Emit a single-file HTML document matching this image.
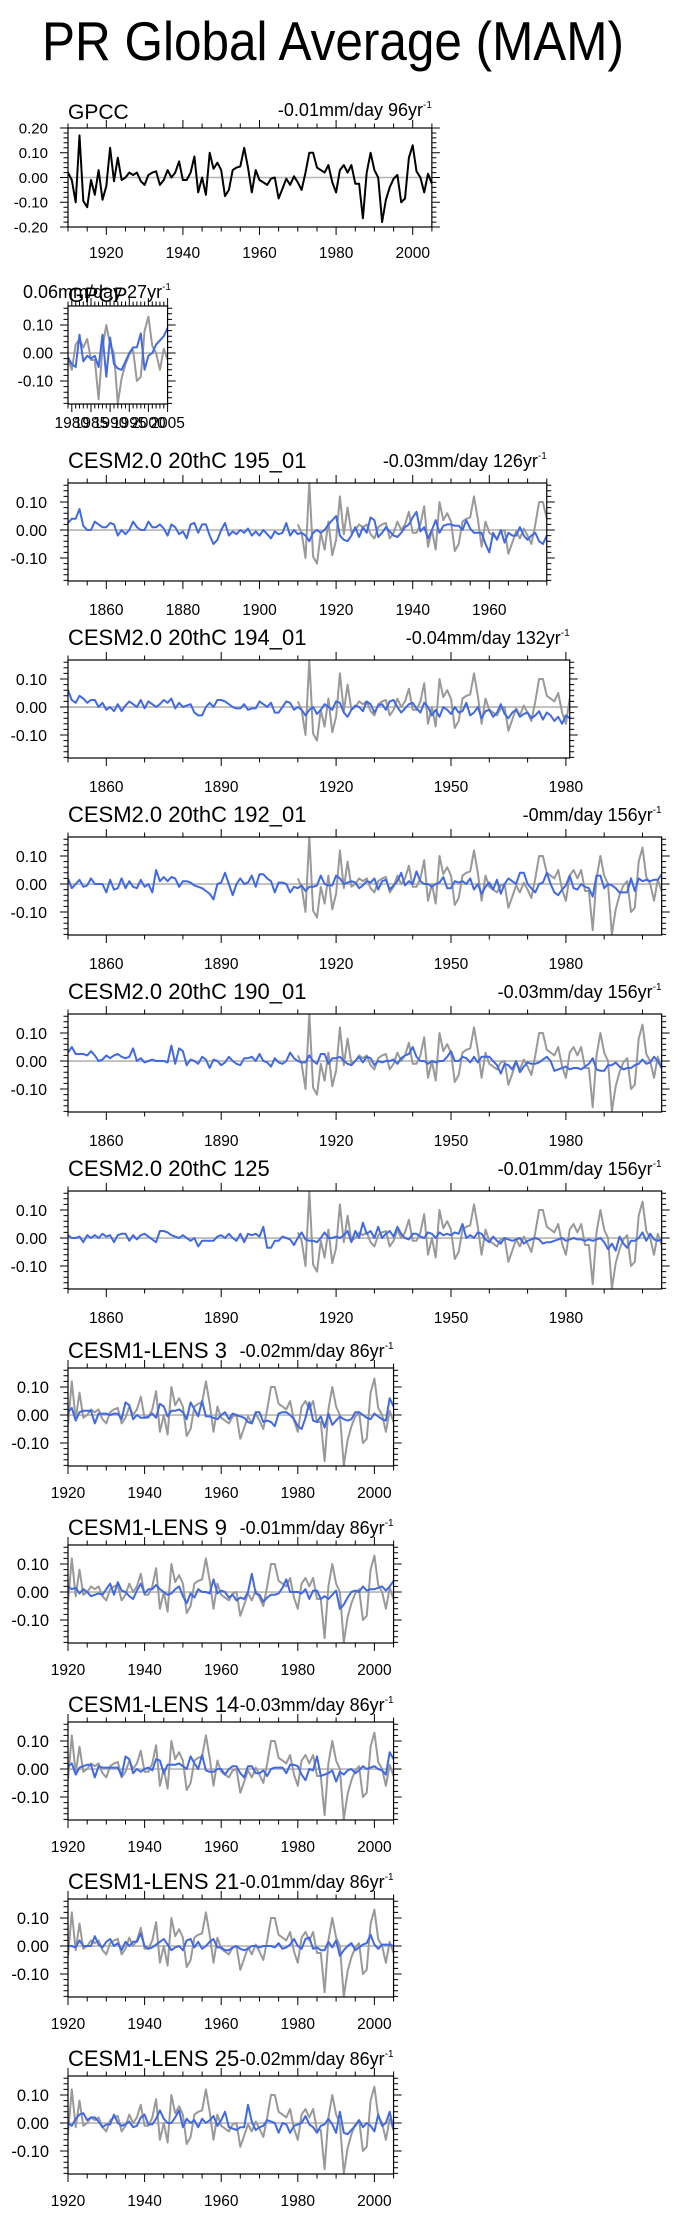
<!DOCTYPE html>
<html><head><meta charset="utf-8">
<style>
html,body{margin:0;padding:0;background:#fff;}
svg{display:block;font-family:"Liberation Sans",sans-serif;}
</style></head>
<body>
<svg id="fig" width="683" height="2214" viewBox="0 0 683 2214" xmlns="http://www.w3.org/2000/svg">
<rect x="0" y="0" width="683" height="2214" fill="#fff"/>
<text x="42" y="60" font-size="55" textLength="582" lengthAdjust="spacingAndGlyphs">PR Global Average (MAM)</text>
</svg>
<script>
const gpccYears = [1910, 2005];
const gpcc = [0.02,-0.01,-0.10,0.17,-0.095,-0.12,-0.01,-0.07,0.03,-0.09,
-0.035,0.12,-0.015,0.08,-0.01,0.00,0.02,0.01,0.02,-0.015,
-0.03,0.01,0.02,0.025,-0.03,-0.01,0.03,0.00,0.02,0.065,
-0.01,-0.01,0.02,0.085,-0.06,0.00,-0.07,0.10,0.035,0.06,
0.03,-0.075,-0.05,0.03,0.04,0.045,0.12,0.04,-0.06,0.03,
-0.01,-0.02,-0.03,-0.005,0.00,-0.085,-0.045,-0.005,-0.03,0.005,
-0.02,-0.05,0.02,0.10,0.10,0.04,0.03,0.02,0.05,-0.02,
-0.06,0.03,0.05,0.02,0.05,-0.025,-0.025,-0.165,0.02,0.10,
0.03,0.00,-0.18,-0.09,-0.04,-0.005,0.01,-0.10,-0.085,0.08,
0.13,0.025,0.00,-0.06,0.015,-0.025];
const gpcpYears = [1979, 2005];
const gpcp = [-0.015,-0.04,-0.05,0.065,-0.03,-0.01,-0.02,-0.01,-0.05,0.065,-0.085,0.055,-0.04,-0.055,-0.06,-0.03,0.00,0.02,0.02,0.07,-0.06,-0.01,0.00,0.03,0.045,0.06,0.09];
const cesm195 = [0.025,0.04,0.04,0.075,0.015,0.00,0.00,0.03,0.02,0.01,0.01,
0.025,0.02,-0.02,0.00,-0.015,0.00,0.03,0.01,0.00,0.00,0.03,
0.01,0.01,0.02,0.005,-0.02,0.02,0.01,-0.015,-0.005,-0.03,
0.02,0.025,-0.01,0.02,0.02,-0.02,-0.05,-0.035,0.00,0.025,
-0.02,-0.005,-0.015,0.00,-0.01,0.005,-0.02,-0.005,-0.02,0.00,
-0.015,-0.03,-0.005,-0.015,-0.01,0.025,-0.02,0.00,-0.015,-0.01,
-0.02,-0.04,-0.01,0.00,-0.01,0.00,0.02,0.035,0.05,-0.02,
-0.035,-0.04,-0.02,0.01,-0.025,0.01,-0.01,0.045,0.035,-0.025,
-0.01,0.01,-0.005,-0.02,-0.025,-0.01,0.01,0.02,0.045,0.065,
-0.005,0.01,-0.03,0.00,0.035,-0.01,0.015,0.02,0.02,0.015,
0.015,0.00,0.035,0.005,-0.01,-0.01,-0.01,-0.05,-0.08,-0.01,
-0.035,0.00,-0.045,-0.01,-0.02,-0.02,0.01,-0.02,-0.035,-0.02,
-0.01,-0.04,-0.05,-0.02];
const cesm194 = [0.06,0.025,0.015,0.04,0.03,0.015,0.025,0.025,0.00,0.015,-0.01,
0.00,-0.015,0.01,-0.015,0.005,0.02,0.01,0.00,0.025,-0.005,
0.02,0.01,0.00,0.01,0.025,0.015,0.03,-0.005,0.015,0.00,
0.005,0.01,-0.02,-0.03,-0.03,0.00,0.015,0.00,0.025,0.025,
0.02,0.01,0.00,-0.005,-0.005,0.01,-0.01,-0.005,-0.005,0.02,
0.01,0.00,0.015,-0.02,-0.02,0.00,0.02,0.015,-0.01,0.00,
-0.01,-0.03,-0.01,0.00,-0.025,-0.01,0.01,0.00,-0.01,0.02,
0.015,-0.02,-0.035,-0.01,0.005,0.00,-0.015,0.02,0.01,-0.02,
0.005,0.01,-0.01,0.02,0.025,0.00,-0.02,-0.005,0.01,0.015,
-0.005,-0.02,0.015,0.00,-0.03,-0.01,-0.035,0.00,-0.01,-0.025,
0.00,-0.02,-0.015,0.015,-0.03,-0.02,0.00,-0.04,-0.015,-0.01,
-0.035,-0.02,0.01,-0.025,-0.04,-0.02,-0.01,-0.035,-0.025,-0.02,
-0.04,-0.03,-0.015,-0.045,-0.02,-0.03,-0.05,-0.035,-0.06,-0.03,
-0.04];
const cesm192 = [0.02,-0.015,0.00,0.015,-0.01,-0.005,0.02,0.00,0.00,0.00,-0.03,
0.015,-0.02,-0.015,0.02,-0.015,0.01,-0.01,-0.015,0.015,-0.01,
0.00,-0.03,0.05,0.01,0.025,0.01,0.025,0.02,-0.01,0.01,
0.01,0.005,-0.005,-0.01,-0.015,-0.025,-0.035,-0.055,0.00,0.005,
0.04,0.00,-0.04,0.00,0.02,0.00,0.005,0.03,-0.01,0.035,
0.035,0.02,0.01,-0.03,0.005,0.005,0.00,-0.03,-0.01,-0.015,
-0.005,-0.025,-0.01,-0.01,-0.005,0.03,0.00,-0.005,-0.005,0.03,
0.02,0.00,0.005,0.01,0.005,-0.015,-0.005,0.01,0.005,0.02,
-0.02,0.01,0.015,-0.02,-0.005,0.01,0.04,-0.005,0.01,0.00,
0.045,0.01,0.00,0.00,-0.01,0.00,0.005,0.025,-0.015,-0.015,
0.01,0.005,0.01,0.00,0.02,-0.02,0.00,-0.035,-0.01,0.005,
-0.02,0.015,-0.035,0.00,0.02,0.01,0.00,0.04,0.04,0.00,
-0.015,-0.03,0.00,0.005,0.04,0.00,-0.03,-0.04,-0.02,-0.005,
0.03,-0.015,-0.02,0.00,-0.01,-0.015,-0.045,0.03,0.03,-0.015,
0.00,-0.005,-0.015,-0.03,-0.03,-0.03,0.02,-0.025,0.02,0.01,
0.015,0.01,0.015,0.015,0.035];
const cesm190 = [0.03,0.05,0.025,0.025,0.025,0.02,0.035,0.02,0.00,0.005,0.02,
0.01,0.02,0.025,0.015,0.01,0.015,0.045,0.00,0.01,-0.005,
0.00,0.005,0.00,0.00,0.00,-0.005,0.055,-0.01,0.045,0.035,
-0.015,0.005,0.00,-0.01,0.015,0.005,-0.025,0.005,0.00,-0.015,
-0.005,0.015,0.00,-0.01,-0.015,0.01,0.01,0.015,0.00,0.025,
0.00,-0.005,-0.02,0.01,-0.005,-0.01,0.00,0.03,0.01,0.00,
-0.005,-0.005,0.02,0.00,-0.01,0.025,0.025,-0.01,0.01,0.01,
0.015,0.00,-0.01,-0.015,0.00,0.015,-0.005,0.015,0.01,-0.015,
0.00,-0.005,0.00,0.00,0.005,-0.01,0.01,0.02,0.025,0.05,
0.015,0.00,0.00,-0.01,0.00,-0.005,0.00,0.00,0.015,0.035,
0.00,0.00,0.015,0.01,-0.005,0.015,-0.005,0.015,0.015,0.015,
0.00,-0.015,-0.045,-0.01,-0.015,-0.03,0.00,-0.04,-0.02,-0.005,
-0.01,-0.01,-0.005,0.005,0.015,0.00,-0.035,-0.03,-0.025,-0.02,
-0.03,-0.025,-0.025,-0.03,-0.02,-0.01,0.01,-0.03,-0.035,-0.035,
-0.015,-0.015,-0.005,-0.02,-0.03,-0.025,-0.025,-0.015,-0.01,0.005,
-0.01,-0.005,0.015,0.00,-0.025];
const cesm125 = [0.01,0.00,0.00,0.005,-0.015,0.01,0.00,0.01,0.00,0.015,0.005,
0.01,-0.015,0.01,0.015,0.015,-0.01,0.01,-0.005,0.01,0.015,
0.005,-0.005,-0.015,0.025,0.025,0.02,0.01,0.005,0.00,0.01,
0.00,-0.01,0.00,-0.03,-0.01,-0.01,-0.01,-0.01,0.005,0.01,
0.00,0.015,0.00,-0.01,0.015,-0.015,0.015,0.01,0.015,0.005,
0.04,-0.035,-0.035,-0.01,-0.01,0.005,0.00,-0.005,-0.025,0.00,
0.02,-0.005,-0.01,-0.01,-0.015,0.00,0.02,0.00,0.00,0.005,
0.00,0.01,0.025,-0.015,0.025,0.00,0.055,0.015,0.025,0.00,
0.04,0.00,0.015,0.025,0.005,0.04,0.015,0.00,-0.005,0.015,
0.015,0.005,0.00,0.02,0.015,0.00,0.02,0.01,0.015,0.01,
0.02,0.015,0.05,0.00,0.01,0.00,0.02,0.015,-0.005,-0.015,
0.005,-0.01,-0.02,0.00,-0.005,-0.01,-0.005,0.00,-0.02,-0.01,
-0.005,0.00,-0.005,-0.02,-0.015,-0.015,-0.01,-0.005,0.00,-0.01,
-0.005,0.00,-0.005,-0.005,-0.01,-0.005,-0.01,-0.005,0.00,-0.015,
-0.04,-0.02,-0.045,0.005,-0.02,-0.035,-0.01,-0.01,0.00,0.02,
-0.01,0.015,-0.005,-0.01,-0.005];
const lens3 = [0.01,0.025,-0.02,0.01,0.015,0.015,0.015,-0.03,0.005,0.005,
0.005,0.00,0.005,0.005,-0.015,0.045,0.035,-0.015,0.00,-0.01,
-0.01,-0.005,0.005,-0.01,0.04,0.03,-0.005,0.015,0.015,0.02,
0.01,-0.015,0.045,0.02,-0.005,0.05,-0.005,-0.005,-0.01,-0.015,
0.00,0.01,-0.015,0.005,0.00,-0.005,-0.01,-0.025,-0.03,0.01,
0.01,-0.025,-0.02,-0.025,-0.04,0.005,0.01,0.01,0.00,-0.015,
-0.04,-0.05,-0.01,0.045,-0.02,-0.025,-0.005,-0.045,0.005,-0.035,
-0.02,-0.005,-0.015,-0.02,-0.015,0.01,0.01,0.00,-0.01,-0.015,
0.005,-0.005,-0.015,-0.02,0.06,0.03];
const lens9 = [0.02,0.01,0.015,-0.005,0.01,0.00,-0.015,-0.01,-0.005,-0.01,
0.01,0.03,-0.01,0.035,0.005,0.00,-0.015,-0.025,0.005,0.03,
-0.005,0.01,0.01,0.025,0.01,0.00,-0.01,-0.005,0.01,0.02,
-0.015,-0.04,-0.005,-0.02,0.01,0.00,0.00,-0.005,0.045,-0.005,
0.005,0.00,-0.02,-0.01,-0.03,-0.02,-0.025,0.00,0.065,-0.005,
-0.01,-0.035,-0.02,-0.01,-0.01,-0.005,0.015,0.045,0.00,0.00,
0.00,-0.005,0.01,-0.025,0.005,0.005,-0.025,-0.015,-0.025,-0.01,
0.005,-0.06,-0.045,-0.02,0.00,0.005,0.00,0.02,0.005,0.01,
0.01,0.015,0.02,0.005,0.02,0.04];
const lens14 = [0.01,0.02,-0.02,0.005,0.01,0.015,0.015,-0.03,0.01,0.005,
0.005,0.005,0.005,0.005,-0.025,0.045,0.035,-0.015,0.00,-0.01,
0.00,0.005,-0.005,0.035,0.03,-0.015,0.015,0.015,0.015,0.02,
0.01,0.00,0.045,0.02,0.00,0.05,-0.005,-0.01,-0.01,0.00,
0.00,-0.02,0.00,0.01,0.01,-0.015,-0.03,0.01,0.01,-0.015,
-0.015,-0.005,-0.025,0.00,0.005,0.005,0.005,-0.015,0.015,0.015,
0.01,-0.02,-0.04,0.00,-0.005,0.045,-0.025,-0.02,-0.015,-0.005,
-0.045,-0.01,-0.02,-0.005,0.00,-0.015,-0.005,0.01,0.00,0.005,
0.01,0.00,-0.005,-0.02,0.06,0.035];
const lens21 = [0.00,0.00,-0.005,0.02,0.00,0.00,0.00,0.035,0.005,-0.005,
0.015,0.025,0.00,0.01,-0.015,0.015,0.00,0.015,0.015,0.045,
0.00,-0.01,-0.005,0.005,0.015,0.025,0.005,-0.015,-0.005,0.00,
-0.015,0.02,0.025,-0.005,0.015,-0.01,0.00,0.015,0.025,-0.005,
-0.005,-0.015,-0.015,-0.005,0.00,-0.01,-0.015,-0.01,0.00,0.00,
-0.005,0.00,0.00,0.00,-0.005,0.01,-0.01,-0.005,0.005,0.025,
0.00,-0.01,0.025,0.03,-0.01,-0.005,-0.015,-0.015,0.015,-0.005,
0.02,-0.035,-0.015,0.00,0.01,-0.015,-0.005,0.005,0.01,0.04,
0.005,-0.01,0.005,0.005,0.005,0.00];
const lens25 = [0.00,-0.01,0.015,0.03,0.035,0.01,0.02,0.02,0.005,-0.015,
-0.005,-0.005,0.03,0.00,-0.01,-0.005,0.005,-0.015,-0.01,0.02,
0.03,-0.005,-0.005,0.015,0.045,0.015,0.00,0.00,0.02,0.045,
-0.015,0.015,0.00,0.01,-0.015,0.015,0.00,0.01,0.025,-0.01,
0.01,0.04,-0.015,-0.02,-0.025,-0.015,-0.015,0.065,0.005,-0.025,
-0.015,-0.01,0.01,0.005,0.00,-0.035,0.00,-0.005,-0.035,-0.01,
-0.005,0.00,0.025,-0.005,-0.015,-0.035,-0.01,-0.005,0.015,-0.005,
-0.035,0.04,-0.035,-0.04,-0.025,-0.01,0.01,-0.015,0.00,-0.01,
-0.03,0.03,-0.01,0.00,0.04,-0.025];
const cesmYTicks = [0.10, 0.00, -0.10];
const gpccYTicks = [0.20, 0.10, 0.00, -0.10, -0.20];

const NS = 'http://www.w3.org/2000/svg';
const svg = document.getElementById('fig');
const PXYR = 3.83, LEFT = 68;

function mk(parent, tag, attrs, name) {
  const e = document.createElementNS(NS, tag);
  for (const k in attrs) e.setAttribute(k, attrs[k]);
  
  
  parent.appendChild(e);
  return e;
}

const panels = [
 {key:'gpcc', title:'GPCC', trend:'-0.01mm/day 96yr', start:1910, end:2005, top:128, h:99, ymin:-0.2, ymax:0.2,
  yt:gpccYTicks, ylfs:15, ylx:48, tfs:21, tby:119, trfs:18, trby:116, xmaj:20, xmin:5, xlby:31, main:gpcc, mainStart:1910, mainColor:'#000', gray:false},
 {key:'gpcp', title:'GPCP', trend:'0.06mm/day 27yr', start:1979, end:2005, top:306, h:98, ymin:-0.182, ymax:0.168,
  yt:cesmYTicks, ylfs:15.5, ylx:53, tfs:21, tby:302, trfs:18, trby:298, trLeft:23, xmaj:5, xmin:1, xlby:24, main:gpcp, mainStart:1979, mainColor:'#4169e1', gray:true}
];
const cesmDefs = [
 ['CESM2.0 20thC 195_01','-0.03mm/day 126yr',1975,cesm195,20,5],
 ['CESM2.0 20thC 194_01','-0.04mm/day 132yr',1981,cesm194,30,10],
 ['CESM2.0 20thC 192_01','-0mm/day 156yr',2005,cesm192,30,10],
 ['CESM2.0 20thC 190_01','-0.03mm/day 156yr',2005,cesm190,30,10],
 ['CESM2.0 20thC 125','-0.01mm/day 156yr',2005,cesm125,30,10]
];
cesmDefs.forEach((d,i)=>{
  const top = 483 + i*177;
  panels.push({key:'cesm'+i, title:d[0], trend:d[1], start:1850, end:d[2], top:top, h:98, ymin:-0.182, ymax:0.168,
   yt:cesmYTicks, ylfs:16, ylx:47, tfs:22, tby:top-15, trfs:18, trby:top-16, xmaj:d[4], xmin:d[5], xlby:34, main:d[3], mainStart:1850, mainColor:'#4169e1', gray:true});
});
const lensDefs = [
 ['CESM1-LENS 3','-0.02mm/day 86yr',lens3],
 ['CESM1-LENS 9','-0.01mm/day 86yr',lens9],
 ['CESM1-LENS 14','-0.03mm/day 86yr',lens14],
 ['CESM1-LENS 21','-0.01mm/day 86yr',lens21],
 ['CESM1-LENS 25','-0.02mm/day 86yr',lens25]
];
lensDefs.forEach((d,i)=>{
  const top = 1368 + i*177;
  panels.push({key:'lens'+i, title:d[0], trend:d[1], start:1920, end:2005, top:top, h:98, ymin:-0.182, ymax:0.168,
   yt:cesmYTicks, ylfs:16.5, ylx:49, tfs:22, tby:top-10, trfs:18, trby:top-11, xmaj:20, xmin:5, xlby:32, main:d[2], mainStart:1920, mainColor:'#4169e1', gray:true});
});

function fmt(v){ const s = Math.abs(v).toFixed(2); return (v < -1e-9 ? '-' : '') + s; }

panels.forEach(p=>{
  const g = mk(svg, 'g', {}, p.key + '-panel');
  const right = LEFT + (p.end - p.start)*PXYR;
  const xs = y => LEFT + (y - p.start)*PXYR;
  const ys = v => p.top + (p.ymax - v)/(p.ymax - p.ymin)*p.h;
  const bottom = p.top + p.h;
  const cp = mk(g, 'clipPath', {id:'clip-'+p.key}, p.key + '-clip');
  mk(cp, 'rect', {x:LEFT, y:p.top, width:right-LEFT, height:p.h}, p.key + '-clip-rect');
  mk(g, 'line', {x1:LEFT, x2:right, y1:ys(0), y2:ys(0), stroke:'#b4b4b4', 'stroke-width':1.6}, p.key + '-zero-line');
  const lg = mk(g, 'g', {'clip-path':'url(#clip-'+p.key+')'}, p.key + '-series');
  if (p.gray) {
    const pts = gpcc.map((v,i)=>[gpccYears[0]+i, v]).filter(a=>a[0]>=p.start-1 && a[0]<=p.end+1);
    mk(lg, 'polyline', {points: pts.map(a=>xs(a[0]).toFixed(1)+','+ys(a[1]).toFixed(1)).join(' '), fill:'none', stroke:'#999', 'stroke-width':2, 'stroke-linejoin':'round'}, p.key + '-gpcc-line');
  }
  mk(lg, 'polyline', {points: p.main.map((v,i)=>xs(p.mainStart+i).toFixed(1)+','+ys(v).toFixed(1)).join(' '), fill:'none', stroke:p.mainColor, 'stroke-width':2, 'stroke-linejoin':'round'}, p.key + '-main-line');
  mk(g, 'rect', {x:LEFT, y:p.top, width:right-LEFT, height:p.h, fill:'none', stroke:'#000', 'stroke-width':1.2}, p.key + '-frame');
  let d = '';
  for (let k = Math.ceil(p.ymin/0.02 - 1e-6); k*0.02 <= p.ymax + 1e-6; k++) {
    const v = k*0.02, y = ys(v).toFixed(1);
    const major = Math.abs(Math.round(v*10) - v*10) < 1e-6;
    const L = major ? 8 : 4.5;
    d += 'M'+LEFT+' '+y+'h-'+L+'M'+right.toFixed(1)+' '+y+'h'+L;
  }
  for (let yr = p.start; yr <= p.end; yr++) {
    if ((yr % p.xmin) !== 0) continue;
    const major = yr % p.xmaj === 0 || (p.xmaj===30 && (yr-1860)%30===0);
    const L = major ? 8 : 4.5;
    const x = xs(yr).toFixed(1);
    d += 'M'+x+' '+bottom+'v'+L+'M'+x+' '+p.top+'v-'+L;
  }
  mk(g, 'path', {d:d, stroke:'#000', 'stroke-width':1, fill:'none'}, p.key + '-ticks');
  p.yt.forEach(v=>{
    const t = mk(g, 'text', {x:p.ylx, y:(ys(v)+p.ylfs*0.36).toFixed(1), 'font-size':p.ylfs, 'text-anchor':'end'}, p.key + '-y-tick-label');
    t.textContent = fmt(v);
  });
  for (let yr = p.start; yr <= p.end; yr++) {
    let lab = false;
    if (p.xmaj === 30) lab = (yr-1860)%30===0; else lab = yr % p.xmaj === 0;
    if (!lab) continue;
    const t = mk(g, 'text', {x:xs(yr).toFixed(1), y:bottom+p.xlby, 'font-size':15.5, 'text-anchor':'middle'}, p.key + '-x-tick-label');
    t.textContent = yr;
  }
  const tt = mk(g, 'text', {x:LEFT, y:p.tby, 'font-size':p.tfs}, p.key + '-title');
  tt.textContent = p.title;
  const tr = p.trLeft !== undefined
    ? mk(g, 'text', {x:p.trLeft, y:p.trby, 'font-size':p.trfs}, p.key + '-trend')
    : mk(g, 'text', {x:right.toFixed(1), y:p.trby, 'font-size':p.trfs, 'text-anchor':'end'}, p.key + '-trend');
  tr.textContent = p.trend;
  const sup = mk(tr, 'tspan', {'font-size':10, dy:-8}, p.key + '-trend-exponent');
  sup.textContent = '-1';
});
</script>
</body></html>
